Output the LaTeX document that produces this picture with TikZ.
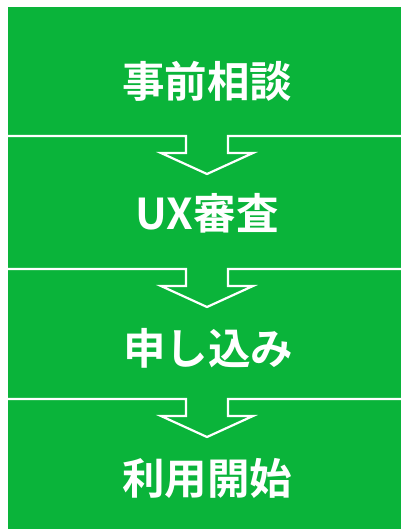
\documentclass[tikz,border=0pt]{standalone}
\usepackage{fontspec}
\newfontfamily\cjk{Noto Sans CJK JP}[BoldFont={Noto Sans CJK JP Bold}]
\definecolor{stepgreen}{RGB}{10,180,58}
\tikzset{
  steplabel/.style={text=white, font=\cjk\bfseries\fontsize{42.5}{46}\selectfont, inner sep=0pt, anchor=center},
  arrowline/.style={draw=white, line width=2.2pt, line join=miter},
}
\begin{document}
\begin{tikzpicture}[x=1pt,y=-1pt]
\useasboundingbox (0,0) rectangle (401,529);
\fill[white] (0,0) rectangle (401,529);
\fill[stepgreen] (8,7) rectangle (401,529);
% separators with arrow notches
\foreach \y/\n in {136/a,269/b,399/c}{
  \coordinate (L\n) at (8,\y);
  \coordinate (R\n) at (401,\y);
  \draw[arrowline] (L\n) -- (186,\y) -- (186,\y+17) -- (161,\y+17) -- (207,\y+38)
     -- (253,\y+17) -- (228,\y+17) -- (228,\y) -- (R\n);
}
\node[steplabel] (s1) at (207,81) {事前相談};
\node[steplabel] (s2) at (207,213) {UX審査};
\node[steplabel] (s3) at (208,348) {申し込み};
\node[steplabel] (s4) at (207,478) {利用開始};
\end{tikzpicture}
\end{document}
